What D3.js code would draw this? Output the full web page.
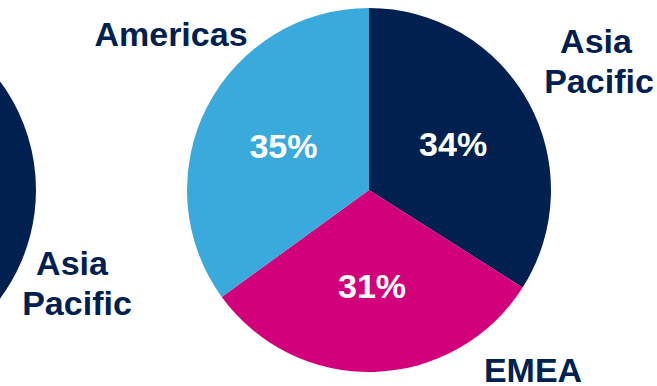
<!DOCTYPE html>
<html>
<head>
<meta charset="utf-8">
<script src="https://cdn.jsdelivr.net/npm/d3@7"></script>
<style>
  html, body { margin: 0; padding: 0; background: #ffffff; }
  svg { display: block; }
</style>
</head>
<body>
<svg id="chart" width="657" height="386"></svg>
<script>
// Regional revenue split (share of total, %)
const regions = ["Asia Pacific", "EMEA", "Americas"];
const shares = [34, 31, 35];
const shareLabels = ["34%", "31%", "35%"];

// Neighbouring pie, only its Asia Pacific side shows at the left edge
const prevRegions = ["Asia Pacific", "EMEA", "Americas"];
const prevShares = [36, 31, 33];

const colors = {
  "Asia Pacific": "#00214f",
  "EMEA": "#d2007a",
  "Americas": "#3aa9dc"
};
const textNavy = "#00214f";
const font = "'Liberation Sans', Arial, Helvetica, sans-serif";

const svg = d3.select("#chart");
const R = 182;

const pie = d3.pie().sort(null).value(d => d.value);
const arc = d3.arc().innerRadius(0).outerRadius(R);
const labelArc = d3.arc().innerRadius(96).outerRadius(96);

function drawPie(cx, cy, names, values) {
  const data = names.map((n, i) => ({ name: n, value: values[i], label: shareLabels[i] }));
  const g = svg.append("g").attr("transform", `translate(${cx},${cy})`);
  const arcs = pie(data);
  g.selectAll("path")
    .data(arcs)
    .join("path")
    .attr("d", arc)
    .attr("fill", d => colors[d.data.name]);
  return { g, arcs };
}

// left partial pie
drawPie(-146, 190, prevRegions, prevShares);

// main pie
const main = drawPie(369, 190, regions, shares);
main.g.selectAll("text.pct")
  .data(main.arcs)
  .join("text")
  .attr("class", "pct")
  .attr("x", d => labelArc.centroid(d)[0])
  .attr("y", d => labelArc.centroid(d)[1] + 12)
  .attr("text-anchor", "middle")
  .attr("font-family", font)
  .attr("font-weight", "bold")
  .attr("font-size", 34)
  .attr("fill", "#ffffff")
  .text(d => d.data.label);

// region names placed around the pies
const nameLabels = [
  { lines: ["Americas"], x: 171, y: 46, dx: [0] },
  { lines: ["Asia", "Pacific"], x: 599, y: 53, dx: [-3, 0] },
  { lines: ["EMEA"], x: 533, y: 382, dx: [0] },
  { lines: ["Asia", "Pacific"], x: 77, y: 275, dx: [-5, 0] }
];
nameLabels.forEach(l => {
  const t = svg.append("text")
    .attr("text-anchor", "middle")
    .attr("font-family", font)
    .attr("font-weight", "bold")
    .attr("font-size", 34)
    .attr("fill", textNavy);
  l.lines.forEach((s, i) => {
    t.append("tspan").attr("x", l.x + l.dx[i]).attr("y", l.y + i * 40).text(s);
  });
});
</script>
</body>
</html>
